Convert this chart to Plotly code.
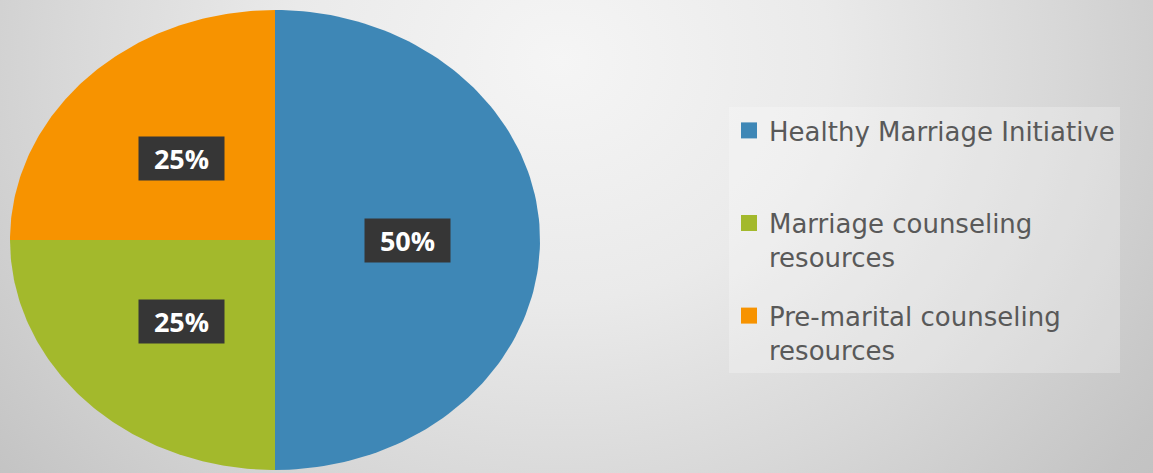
import numpy as np
import plotly.graph_objects as go

# data
labels = ["Healthy Marriage Initiative", "Marriage counseling resources", "Pre-marital counseling resources"]
legend_text = ["Healthy Marriage Initiative<br>&nbsp;", "Marriage counseling<br>resources", "Pre-marital counseling<br>resources"]
values = [50, 25, 25]
colors = ["#3e87b6", "#a3b92c", "#f79300"]

W, H = 1153, 473
# pie is an ellipse: pixel box of the pie
left, right, top, bottom = 10, 540, 10, 470
rx = (right - left) / 2
ry = (bottom - top) / 2
cx = (left + right) / 2
cy = (top + bottom) / 2

# axis ranges in unit-ellipse coords
xr = [(0 - cx) / rx, (W - cx) / rx]
yr = [-(H - cy) / ry, cy / ry]

fig = go.Figure()

# background with radial gradient, centred near the top middle
gx, gy = (560 - cx) / rx, (cy - 60) / ry
ha, hb = 900 / rx, 800 / ry
bx0, bx1 = gx - ha, gx + ha
by0, by1 = gy - hb, gy + hb
fig.add_trace(go.Scatter(
    x=[bx0, bx1, bx1, bx0, bx0], y=[by0, by0, by1, by1, by0],
    mode="lines", line=dict(width=0), fill="toself",
    fillgradient=dict(type="radial", colorscale=[[0, "#f5f5f5"], [0.3, "#eaeaea"], [0.55, "#d8d8d8"],
                                                 [0.8, "#c4c4c4"], [1, "#bcbcbc"]]),
    showlegend=False, hoverinfo="skip"))

total = sum(values)
cum = 0
for lab, v, c in zip(labels, values, colors):
    a0 = np.radians(90 - 360 * cum / total)
    a1 = np.radians(90 - 360 * (cum + v) / total)
    t = np.linspace(a0, a1, 120)
    xs = np.concatenate([[0], np.cos(t), [0]])
    ys = np.concatenate([[0], np.sin(t), [0]])
    fig.add_trace(go.Scatter(x=xs, y=ys, mode="lines", fill="toself", fillcolor=c,
                             line=dict(width=0, color=c), showlegend=False, name=lab,
                             hoverinfo="name"))
    mid = (a0 + a1) / 2
    fig.add_annotation(x=0.5 * np.cos(mid), y=0.5 * np.sin(mid), text=f"<b>{v}%</b>",
                       showarrow=False, bgcolor="#363636", borderpad=0, width=85, height=43,
                       font=dict(color="white", size=27, family="Open Sans"))
    cum += v

# legend entries
for i, (txt, c) in enumerate(zip(legend_text, colors)):
    fig.add_trace(go.Scatter(x=[None], y=[None], mode="markers", name=txt, legendgroup=str(i),
                             marker=dict(symbol="square", size=17, color=c)))

fig.update_layout(
    width=W, height=H,
    margin=dict(l=0, r=0, t=0, b=0),
    paper_bgcolor="#dcdcdc", plot_bgcolor="#dcdcdc",
    xaxis=dict(range=xr, visible=False, fixedrange=True),
    yaxis=dict(range=yr, visible=False, fixedrange=True),
    showlegend=True,
    legend=dict(x=729 / W, y=1 - 107 / H, xanchor="left", yanchor="top", valign="top",
                bgcolor="rgba(255,255,255,0.25)",
                font=dict(size=26, color="#595959", family="DejaVu Sans"),
                itemwidth=30, tracegroupgap=22),
)

fig.write_html("out.html", config={"displayModeBar": False},
               post_script="document.body.style.margin='0';")
